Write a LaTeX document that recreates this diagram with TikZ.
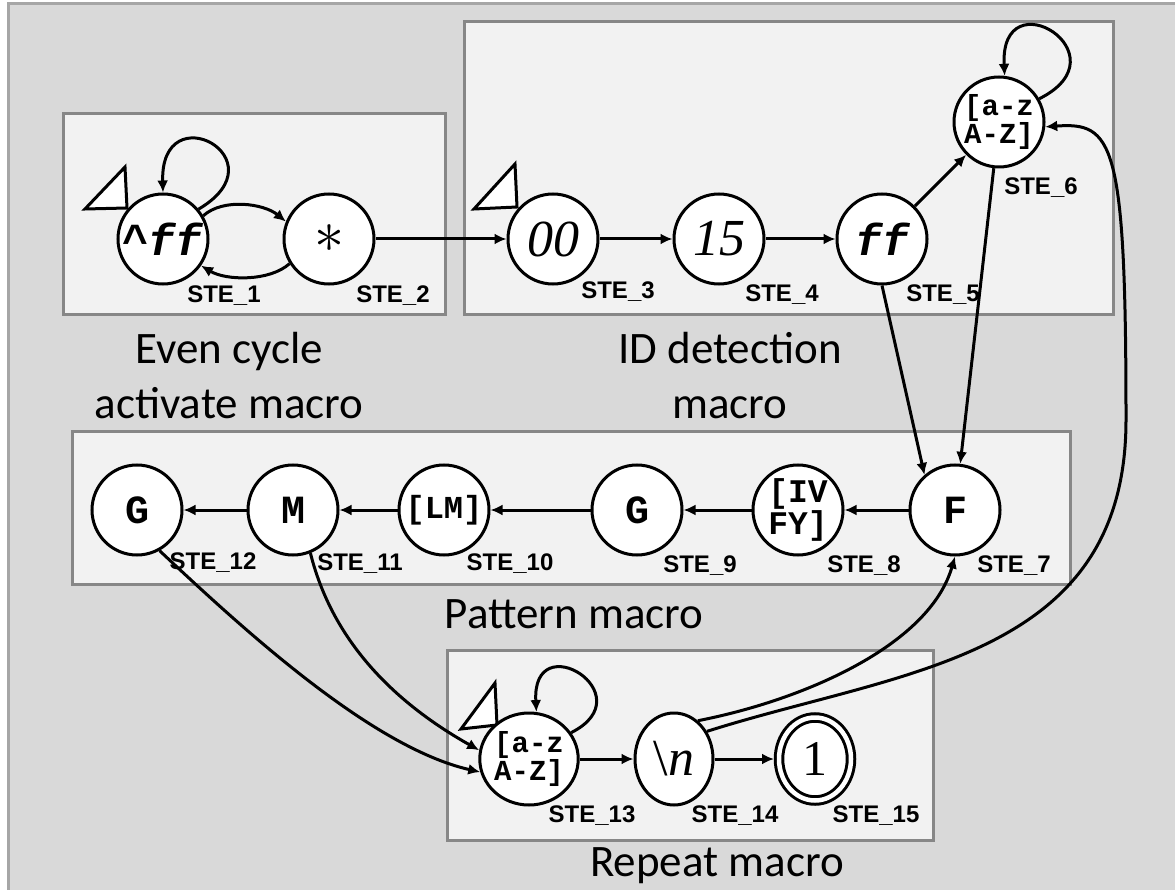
\documentclass[tikz,border=0pt]{standalone}
\usepackage{fontspec}
\setmainfont{Carlito}
\newfontfamily\stesans{Liberation Sans}
\newfontfamily\stemono{Liberation Mono}
\newfontfamily\steserif{Liberation Serif}
\usetikzlibrary{arrows.meta, shapes.geometric}
\definecolor{pagegray}{HTML}{D9D9D9}
\definecolor{pageline}{HTML}{A6A6A6}
\definecolor{boxfill}{HTML}{F2F2F2}
\definecolor{boxline}{HTML}{878787}

\begin{document}
\begin{tikzpicture}[x=1pt, y=-1pt,
    ste/.style={circle, draw, fill=white, line width=3pt, minimum size=90pt, inner sep=0pt},
    rste/.style={ellipse, draw, fill=white, line width=3pt, minimum width=78pt, minimum height=92pt, inner sep=0pt},
    mono/.style={font=\stemono\bfseries\fontsize{40}{40}\selectfont},
    chset/.style={font=\stemono\bfseries\fontsize{29}{26}\selectfont, align=center},
    ital/.style={font=\steserif\itshape\fontsize{52}{52}\selectfont},
    stel/.style={font=\stesans\bfseries\fontsize{24}{24}\selectfont, inner sep=0pt},
    trans/.style={line width=3pt, -{Latex[length=12pt,width=11pt]}},
    macrobox/.style={draw=boxline, fill=boxfill, line width=3pt},
    startmark/.style={draw, fill=white, line width=3pt, line join=miter},
    caption/.style={font=\fontsize{45}{55}\selectfont, align=center, inner sep=0pt}]
    \useasboundingbox (0,0) rectangle (1175,890);
    \fill[white] (0,0) rectangle (1175,890);
    \fill[pagegray] (8,4) rectangle (1175,890);
    \draw[pageline, line width=3pt] (8,890) -- (8,4) -- (1175,4);

    \draw[macrobox] (63,114) rectangle (445,315);
    \draw[macrobox] (464,22) rectangle (1113,315);
    \draw[macrobox] (72,431) rectangle (1070,584);
    \draw[macrobox] (447,650) rectangle (933,840);

    \node[caption] (cap_1) at (229,376) {Even cycle\\activate macro};
    \node[caption] (cap_2) at (730,376) {ID detection\\macro};
    \node[caption] (cap_3) at (574,614) {Pattern macro};
    \node[caption] (cap_4) at (717,866) {Repeat macro};

    \draw[startmark] (85,209) -- (125,167) -- (127,208) -- cycle;
    \draw[startmark] (474,209) -- (515,164) -- (517,207) -- cycle;
    \draw[startmark] (461,729) -- (495,683) -- (497,725) -- cycle;

    \node[ste, font=\stemono\bfseries\fontsize{44}{44}\selectfont] (ste_1) at (163,239) {\textasciicircum\textit{ff}};
    \node[ste] (ste_2) at (329,239) {\scalebox{6}{$\ast$}};
    \node[ste, ital] (ste_3) at (553,239) {00};
    \node[ste, ital] (ste_4) at (719,239) {15};
    \node[ste, font=\stemono\bfseries\itshape\fontsize{44}{44}\selectfont] (ste_5) at (882,239) {ff};
    \node[ste, chset] (ste_6) at (999,122) {[a-z\\A-Z]};
    \node[ste, mono] (ste_7) at (955,510) {F};
    \node[ste, chset, font=\stemono\bfseries\fontsize{33}{30}\selectfont] (ste_8) at (798,510) {[IV\\FY]};
    \node[ste, mono] (ste_9) at (637,510) {G};
    \node[ste, mono, font=\stemono\bfseries\fontsize{32}{32}\selectfont] (ste_10) at (444,510) {[LM]};
    \node[ste, mono] (ste_11) at (293,510) {M};
    \node[ste, mono] (ste_12) at (137,510) {G};
    \node[rste, chset] (ste_13) at (529,759) {[a-z\\A-Z]};
    \node[rste, font=\steserif\fontsize{52}{52}\selectfont] (ste_14) at (674,759) {\textbackslash\textit{n}};
    \node[rste, double, double distance=4.5pt, outer sep=5pt, minimum width=72pt, minimum height=83pt,
        font=\steserif\fontsize{50}{50}\selectfont] (ste_15) at (815,759) {1};

    \node[stel] (l_1) at (224,296) {STE\_1};
    \node[stel] (l_2) at (393,296) {STE\_2};
    \node[stel] (l_3) at (618,292) {STE\_3};
    \node[stel] (l_4) at (782,295) {STE\_4};
    \node[stel] (l_5) at (943,295) {STE\_5};
    \node[stel] (l_6) at (1041,188) {STE\_6};
    \node[stel] (l_7) at (1014,566) {STE\_7};
    \node[stel] (l_8) at (864,566) {STE\_8};
    \node[stel] (l_9) at (700,566) {STE\_9};
    \node[stel] (l_10) at (510,564) {STE\_10};
    \node[stel] (l_11) at (360,564) {STE\_11};
    \node[stel] (l_12) at (213,563) {STE\_12};
    \node[stel] (l_13) at (592,816) {STE\_13};
    \node[stel] (l_14) at (735,816) {STE\_14};
    \node[stel] (l_15) at (876,816) {STE\_15};

    \draw[trans] (ste_1.40) .. controls +(85,-50) and +(-3,-100) .. (ste_1.90);
    \draw[trans] (ste_1.30) .. controls +(20,-18) and +(-22,-18) .. (ste_2.158);
    \draw[trans] (ste_2.212) .. controls +(-20,18) and +(25,15) .. (ste_1.-35);
    \draw[trans] (ste_2) -- (ste_3);
    \draw[trans] (ste_3) -- (ste_4);
    \draw[trans] (ste_4) -- (ste_5);
    \draw[trans] (ste_5) -- (ste_6);
    \draw[trans] (ste_6.30) .. controls +(88,-44) and +(-5,-100) .. (ste_6.83);
    \draw[trans] (ste_6) -- (ste_7);
    \draw[trans] (ste_5.south) -- (ste_7.131);
    \draw[trans] (ste_7) -- (ste_8);
    \draw[trans] (ste_8) -- (ste_9);
    \draw[trans] (ste_9) -- (ste_10);
    \draw[trans] (ste_10) -- (ste_11);
    \draw[trans] (ste_11) -- (ste_12);
    \draw[trans] (ste_12.-61) .. controls +(80,75) and +(-110,-25) .. (ste_13.195);
    \draw[trans] (ste_11.-68) .. controls +(23,92) and +(-80,-45) .. (ste_13.170);
    \draw[trans] (ste_13.32) .. controls +(75,-38) and +(-5,-88) .. (ste_13.81);
    \draw[trans] (ste_13) -- (ste_14);
    \draw[trans] (ste_14) -- (ste_15);
    \draw[trans] (ste_14.58) .. controls +(103,-20) and +(-26,90) .. (ste_7.south);
    \draw[trans] (ste_14.40) .. controls (900,670) and (1126,660) .. (1126,420)
        .. controls (1126,140) and (1113,122) .. (ste_6.-6);
\end{tikzpicture}
\end{document}
